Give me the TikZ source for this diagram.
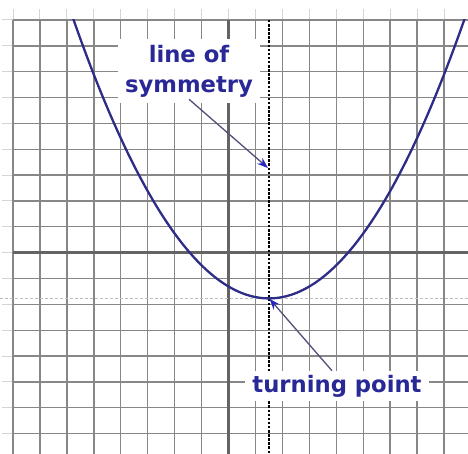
\documentclass[tikz,border=0pt]{standalone}
\usepackage{fontspec}
\newfontfamily\labfont{DejaVu Sans}
\usetikzlibrary{arrows.meta}
\definecolor{gridgray}{RGB}{135,135,135}
\definecolor{axisgray}{RGB}{100,100,100}
\definecolor{curveblue}{RGB}{45,45,135}
\definecolor{textblue}{RGB}{40,40,150}
\definecolor{arrowline}{RGB}{80,80,120}
\definecolor{headblue}{RGB}{40,40,190}
\tikzset{
  gridline/.style={draw=gridgray, line width=1.4pt},
  stub/.style={draw=gridgray!35, line width=1pt},
  axisline/.style={draw=axisgray, line width=3pt},
  symline/.style={draw=black, line width=1.9pt, dash pattern=on 2.5pt off 1.6pt},
  levelline/.style={draw=gridgray!55, line width=1pt, dash pattern=on 3pt off 2pt},
  curve/.style={draw=curveblue, line width=2.3pt},
  label/.style={font=\labfont\bfseries\fontsize{22.7}{30}\selectfont, text=textblue, fill=white, align=center},
  pointer/.style={draw=arrowline, line width=1.3pt, -{Stealth[length=11pt,width=8pt,color=headblue,fill=headblue]}}
}
\begin{document}
\begin{tikzpicture}[x=1pt,y=-1pt]
\fill[white] (0,0) rectangle (468,454);
\useasboundingbox (0,0) rectangle (468,454);
% stubs beyond grid edges
\foreach \j in {0,...,16} \draw[stub] (2,{20+25.85*\j}) -- (13,{20+25.85*\j});
\foreach \k in {0,...,16} \draw[stub] ({13+26.94*\k},9) -- ({13+26.94*\k},20);
% grid
\foreach \k in {0,...,16} \draw[gridline] ({13+26.94*\k},20) -- ({13+26.94*\k},454);
\foreach \j in {0,...,16} \draw[gridline] (13,{20+25.85*\j}) -- (468,{20+25.85*\j});
% axes
\draw[axisline] (13,252.65) -- (468,252.65);
\draw[axisline] (228.5,20) -- (228.5,454);
% level of turning point
\draw[levelline] (0,298.4) -- (468,298.4);
% line of symmetry
\draw[symline] (268.9,20) -- (268.9,454);
% parabola
\begin{scope}
\clip (0,20) rectangle (468,454);
\draw[curve] plot[domain=-6.2:9.2,samples=140,smooth] ({228.5+26.94*\x},{252.65-25.85*(0.205*(\x-1.5)^2-1.77)});
\end{scope}
% labels
\node[label, inner xsep=7pt, inner ysep=6pt] (los) at (189,71) {line of\\symmetry};
\node[label, inner xsep=7pt, inner ysep=4pt] (tp) at (337,386) {turning point};
\coordinate (symtip) at (268,168);
\coordinate (vtx) at (269.5,298.8);
\draw[pointer] ([yshift=4pt]los.south) -- (symtip);
\draw[pointer] ([xshift=-5pt]tp.north) -- (vtx);
\end{tikzpicture}
\end{document}
